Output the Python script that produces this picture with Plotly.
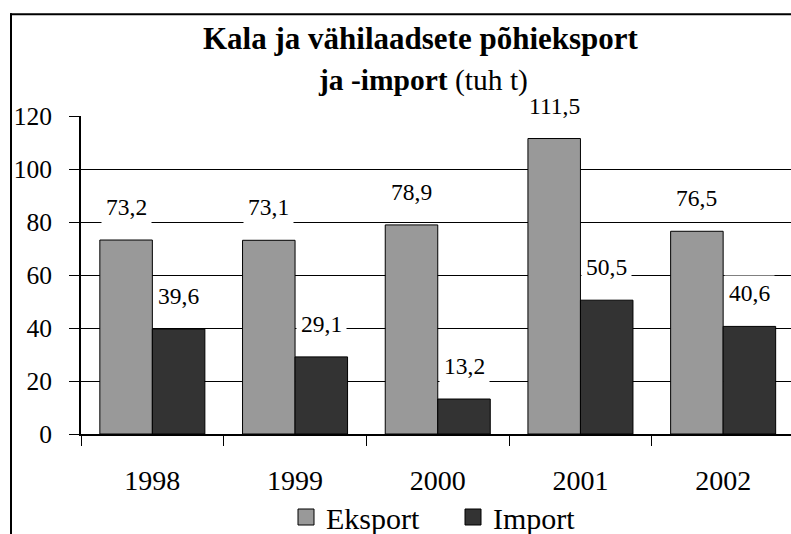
import plotly.graph_objects as go

# ---- data ----
years = ["1998", "1999", "2000", "2001", "2002"]
eksport = [73.2, 73.1, 78.9, 111.5, 76.5]
import_ = [39.6, 29.1, 13.2, 50.5, 40.6]
y_ticks = [0, 20, 40, 60, 80, 100, 120]
series_names = ["Eksport", "Import"]
series_colors = ["#999999", "#333333"]
title_line1 = "Kala ja vähilaadsete põhieksport"
title_line2_bold = "ja -import"
title_line2_rest = " (tuh t)"

# ---- layout constants ----
W, H = 791, 534
ML, MR, MT, MB = 81, 0, 116, 100
PW, PH = W - ML - MR, H - MT - MB
CAT_PX = 142.7
BARGAP = 0.264
FONT = '"Liberation Serif", "Times New Roman", Times, serif'
x_range = [-0.5, -0.5 + PW / CAT_PX]


def px_to_paper_x(px):
    return (px - ML) / PW


def px_to_paper_y(py):
    return (H - MB - py) / PH


def fmt(v):
    return f"{v:.1f}".replace(".", ",")


fig = go.Figure()
for name, vals, col in zip(series_names, [eksport, import_], series_colors):
    fig.add_bar(name=name, x=years, y=vals, showlegend=False,
                marker=dict(color=col, line=dict(color="black", width=1)))
# legend entries (larger square swatches, like the reference)
for name, col in zip(series_names, series_colors):
    fig.add_scatter(name=name, x=[None], y=[None], mode="markers", showlegend=True,
                    marker=dict(symbol="square", size=16, color=col,
                                line=dict(color="black", width=1)))

half = (1 - BARGAP) / 4
annotations = []
for i, (e, m) in enumerate(zip(eksport, import_)):
    for off, v in ((-half, e), (half, m)):
        annotations.append(dict(
            x=i + off, y=v, xref="x", yref="y", text=fmt(v), showarrow=False,
            yanchor="middle", xanchor="center", yshift=33, bgcolor="white", borderpad=4,
            font=dict(size=23.5, color="black", family=FONT)))

annotations.append(dict(
    x=px_to_paper_x(421), y=px_to_paper_y(38), xref="paper", yref="paper",
    text=f"<b>{title_line1}</b>", showarrow=False, xanchor="center", yanchor="middle",
    font=dict(size=31, color="black", family=FONT)))
annotations.append(dict(
    x=px_to_paper_x(423), y=px_to_paper_y(81), xref="paper", yref="paper",
    text=f"<b>{title_line2_bold}</b>{title_line2_rest}", showarrow=False,
    xanchor="center", yanchor="middle",
    font=dict(size=29.5, color="black", family=FONT)))

# outer chart frame (only its top and left edges fall inside the picture)
frame_top = dict(type="line", xref="paper", yref="paper",
                 x0=px_to_paper_x(10), x1=px_to_paper_x(W + 5),
                 y0=px_to_paper_y(14.3), y1=px_to_paper_y(14.3),
                 line=dict(color="black", width=2), layer="above")
frame_left = dict(type="line", xref="paper", yref="paper",
                  x0=px_to_paper_x(11), x1=px_to_paper_x(11),
                  y0=px_to_paper_y(13.3), y1=px_to_paper_y(H + 5),
                  line=dict(color="black", width=2), layer="above")

fig.update_layout(
    width=W, height=H, autosize=False,
    margin=dict(l=ML, r=MR, t=MT, b=MB, autoexpand=False),
    paper_bgcolor="white", plot_bgcolor="white",
    font=dict(family=FONT, color="black"),
    barmode="group", bargap=BARGAP, bargroupgap=0,
    showlegend=True,
    legend=dict(orientation="h", x=px_to_paper_x(453), xanchor="center",
                y=px_to_paper_y(517), yanchor="middle", itemsizing="trace",
                font=dict(size=30, family=FONT, color="black"),
                bgcolor="rgba(0,0,0,0)", entrywidth=122),
    annotations=annotations,
    shapes=[frame_top, frame_left],
    xaxis=dict(type="category", range=x_range, showline=True, linecolor="black", linewidth=2,
               ticks="outside", ticklen=10, tickwidth=1, tickcolor="black",
               tickson="boundaries", showgrid=False, zeroline=False,
               tickfont=dict(size=28, family=FONT, color="black"), ticklabelstandoff=20),
    yaxis=dict(range=[0, 120], tickvals=y_ticks, showgrid=True, gridcolor="black", gridwidth=1,
               showline=True, linecolor="black", linewidth=2, zeroline=False,
               ticks="outside", ticklen=10, tickwidth=1, tickcolor="black",
               tickfont=dict(size=25.5, family=FONT, color="black"), ticklabelstandoff=12),
)

fig.write_html("out.html", config={"displayModeBar": False},
               post_script="document.body.style.margin='0';document.body.style.overflow='hidden';")
